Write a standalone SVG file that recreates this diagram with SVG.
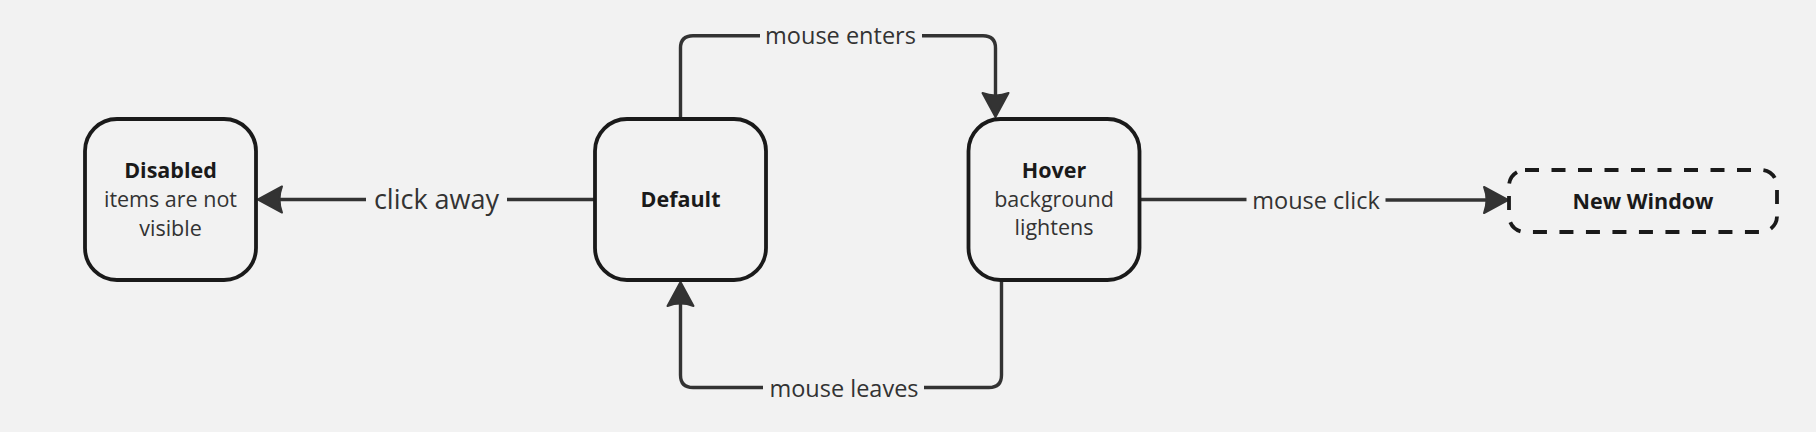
<svg xmlns="http://www.w3.org/2000/svg" width="1816" height="432" viewBox="0 0 1816 432">
  <style>
    .node { fill: #f2f2f2; stroke: #1a1a1a; stroke-width: 3.8; }
    .dashed { stroke-dasharray: 14 12.5; }
    .title { font-family: "Open Sans", "Noto Sans", sans-serif; font-weight: 700; font-size: 21.5px; fill: #1a1a1a; text-anchor: middle; }
    .body { font-family: "Open Sans", "Noto Sans", sans-serif; font-size: 21.5px; fill: #333333; text-anchor: middle; }
    .edge { fill: none; stroke: #333333; stroke-width: 3.4; stroke-linecap: butt; }
    .label { font-family: "Open Sans", "Noto Sans", sans-serif; font-size: 23.5px; fill: #333333; text-anchor: middle; }
    .big { font-size: 27px; }
  </style>
  <defs>
    <marker id="arrow" viewBox="-26 -16 28 32" refX="-18" refY="0" markerWidth="28" markerHeight="32" markerUnits="userSpaceOnUse" orient="auto">
      <path d="M0,0 L-24,-13 Q-19,0 -24,13 Z" fill="#333333" stroke="#333333" stroke-width="2" stroke-linejoin="round"/>
    </marker>
  </defs>
  <rect x="0" y="0" width="1816" height="432" fill="#f2f2f2"/>

  <g id="connectors">
    <!-- click away -->
    <path class="edge" d="M595,199.5 L507,199.5"/>
    <path class="edge" d="M366,199.5 L276,199.5" marker-end="url(#arrow)"/>
    <text class="label big" x="436.5" y="209">click away</text>
    <!-- mouse enters -->
    <path class="edge" d="M680.5,119 L680.5,48 Q680.5,35.7 693,35.7 L760,35.7"/>
    <path class="edge" d="M922,35.7 L983,35.7 Q995.5,35.7 995.5,48 L995.5,99" marker-end="url(#arrow)"/>
    <text class="label" x="840.5" y="44">mouse enters</text>
    <!-- mouse leaves -->
    <path class="edge" d="M1001.5,280 L1001.5,375 Q1001.5,387.5 989,387.5 L924,387.5"/>
    <path class="edge" d="M763,387.5 L693,387.5 Q680.5,387.5 680.5,375 L680.5,300" marker-end="url(#arrow)"/>
    <text class="label" x="844" y="397">mouse leaves</text>
    <!-- mouse click -->
    <path class="edge" d="M1140,199.5 L1246.5,199.5"/>
    <path class="edge" d="M1385.5,200 L1490,200" marker-end="url(#arrow)"/>
    <text class="label" x="1316" y="208.5">mouse click</text>
  </g>

  <g id="disabled">
    <rect class="node" x="85" y="119" width="171" height="161" rx="32"/>
    <text class="title" x="170.5" y="177.5">Disabled</text>
    <text class="body" x="170.5" y="206.5">items are not</text>
    <text class="body" x="170.5" y="235.5">visible</text>
  </g>

  <g id="default">
    <rect class="node" x="595" y="119" width="171" height="161" rx="32"/>
    <text class="title" x="680.5" y="206.5">Default</text>
  </g>

  <g id="hover">
    <rect class="node" x="968.5" y="119" width="171" height="161" rx="32"/>
    <text class="title" x="1054" y="178">Hover</text>
    <text class="body" x="1054" y="206.5">background</text>
    <text class="body" x="1054" y="235">lightens</text>
  </g>

  <g id="new-window">
    <rect class="node dashed" x="1509" y="170" width="268" height="62" rx="16"/>
    <text class="title" x="1643" y="208.5">New Window</text>
  </g>
</svg>
